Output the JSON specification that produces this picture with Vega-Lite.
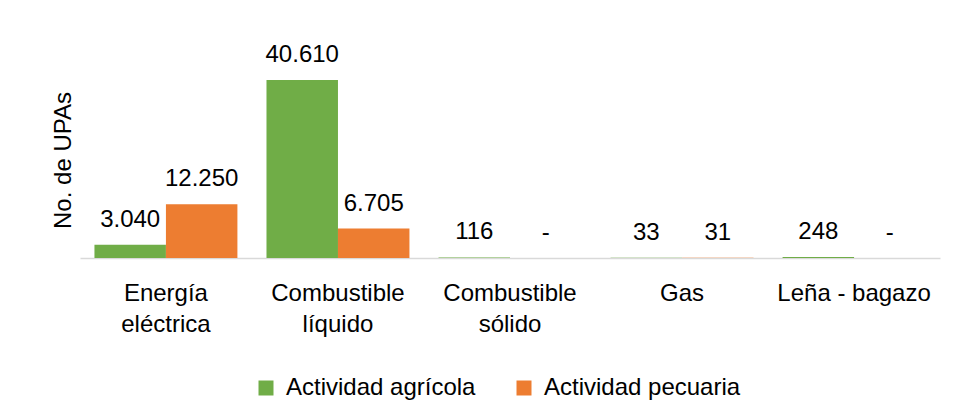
{
  "$schema": "https://vega.github.io/schema/vega-lite/v6.json",
  "autosize": "none",
  "width": 860,
  "height": 196,
  "padding": {"left": 80, "top": 62, "right": 15, "bottom": 161},
  "background": "white",
  "config": {
    "view": {"stroke": null},
    "font": "Liberation Sans",
    "axis": {"labelFont": "Liberation Sans", "titleFont": "Liberation Sans"},
    "legend": {"labelFont": "Liberation Sans"}
  },
  "data": {
    "values": [
      {"fuente": "Energía eléctrica", "actividad": "Actividad agrícola", "upas": 3040, "etiqueta": "3.040"},
      {"fuente": "Energía eléctrica", "actividad": "Actividad pecuaria", "upas": 12250, "etiqueta": "12.250"},
      {"fuente": "Combustible líquido", "actividad": "Actividad agrícola", "upas": 40610, "etiqueta": "40.610"},
      {"fuente": "Combustible líquido", "actividad": "Actividad pecuaria", "upas": 6705, "etiqueta": "6.705"},
      {"fuente": "Combustible sólido", "actividad": "Actividad agrícola", "upas": 116, "etiqueta": "116"},
      {"fuente": "Combustible sólido", "actividad": "Actividad pecuaria", "upas": 0, "etiqueta": "-"},
      {"fuente": "Gas", "actividad": "Actividad agrícola", "upas": 33, "etiqueta": "33"},
      {"fuente": "Gas", "actividad": "Actividad pecuaria", "upas": 31, "etiqueta": "31"},
      {"fuente": "Leña - bagazo", "actividad": "Actividad agrícola", "upas": 248, "etiqueta": "248"},
      {"fuente": "Leña - bagazo", "actividad": "Actividad pecuaria", "upas": 0, "etiqueta": "-"}
    ]
  },
  "encoding": {
    "x": {
      "field": "fuente",
      "type": "nominal",
      "sort": null,
      "scale": {"paddingInner": 0.169, "paddingOuter": 0.084},
      "axis": {
        "title": null,
        "labelAngle": 0,
        "labelFontSize": 24,
        "labelColor": "#000000",
        "labelPadding": 23,
        "labelLineHeight": 31,
        "labelBaseline": "top",
        "labelLimit": 0,
        "ticks": false,
        "domainColor": "#d9d9d9",
        "domainWidth": 1.5,
        "labelExpr": "datum.value == 'Energía eléctrica' ? ['Energía','eléctrica'] : datum.value == 'Combustible líquido' ? ['Combustible','líquido'] : datum.value == 'Combustible sólido' ? ['Combustible','sólido'] : datum.value"
      }
    },
    "xOffset": {"field": "actividad", "type": "nominal", "sort": ["Actividad agrícola", "Actividad pecuaria"], "scale": {"paddingInner": 0, "paddingOuter": 0}},
    "y": {
      "field": "upas",
      "type": "quantitative",
      "scale": {"domain": [0, 44700]},
      "axis": {
        "title": "No. de UPAs",
        "titleFontSize": 24,
        "titleFontWeight": "normal",
        "titleColor": "#000000",
        "titlePadding": 5,
        "labels": false,
        "ticks": false,
        "domain": false,
        "grid": false
      }
    }
  },
  "layer": [
    {
      "mark": {"type": "bar"},
      "encoding": {
        "color": {
          "field": "actividad",
          "type": "nominal",
          "scale": {"domain": ["Actividad agrícola", "Actividad pecuaria"], "range": ["#70ad47", "#ed7d31"]},
          "legend": {
            "title": null,
            "orient": "none",
            "direction": "horizontal",
            "legendX": 174,
            "legendY": 314,
            "symbolType": "square",
            "symbolSize": 225,
            "symbolStrokeWidth": 0,
            "labelFontSize": 24,
            "labelColor": "#000000",
            "labelOffset": 8,
            "labelLimit": 0,
            "columnPadding": 36
          }
        }
      }
    },
    {
      "mark": {"type": "text", "baseline": "alphabetic", "dy": -18, "fontSize": 24, "color": "#000000"},
      "encoding": {
        "text": {"field": "etiqueta", "type": "nominal"}
      }
    }
  ]
}
